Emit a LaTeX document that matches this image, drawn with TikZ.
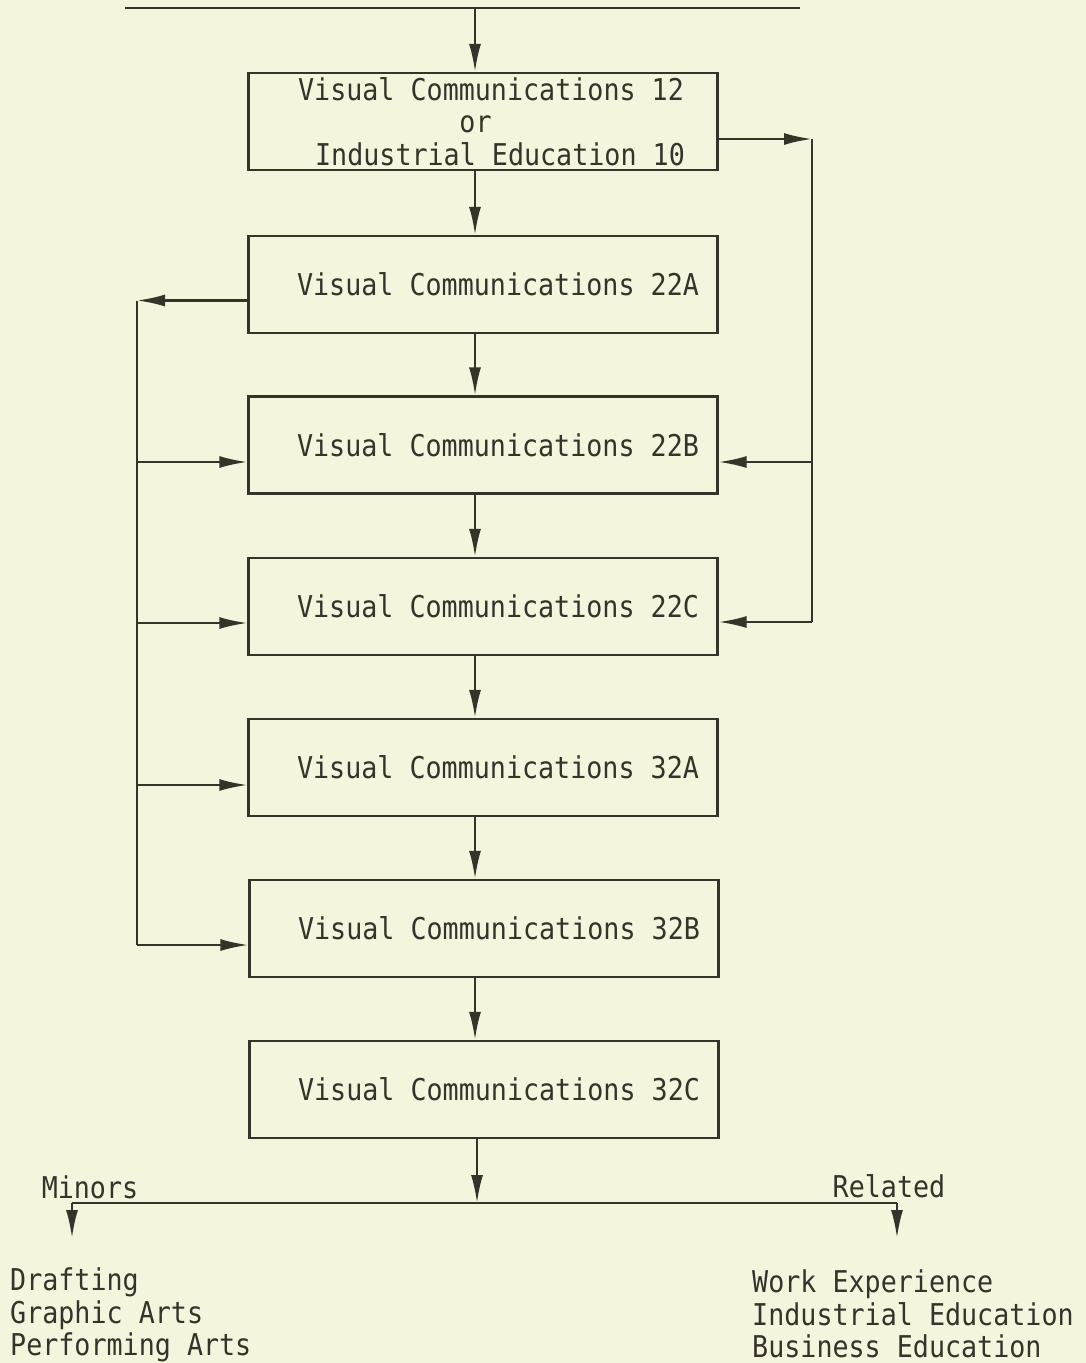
\documentclass[tikz,border=0pt]{standalone}
\usepackage{fontspec}
\newfontfamily\tw[FakeStretch=0.89]{DejaVu Sans Mono}
\usetikzlibrary{arrows.meta}
\definecolor{bg}{RGB}{245,245,222}
\definecolor{ink}{RGB}{55,50,42}
\begin{document}
\begin{tikzpicture}[x=1pt,y=-1pt,
  font=\tw\fontsize{30}{32.5}\selectfont,
  box/.style={draw=ink,line width=2.3pt,minimum width=469pt,minimum height=97pt,inner sep=0pt,text=ink,align=center},
  lbl/.style={text=ink,inner sep=0pt},
  wire/.style={draw=ink,line width=2.3pt},
  arr/.style={wire,-{Latex[length=28pt,width=12pt]}}]
\fill[bg] (0,0) rectangle (1086,1363);
\useasboundingbox (0,0) rectangle (1086,1363);
% boxes
\node[box] (b1) at (483,121.5) {\hspace*{16pt}Visual Communications 12\\ \hspace*{-15pt}or\\ \hspace*{34pt}Industrial Education 10};
\node[box] (b2) at (483,284.5) {\hspace*{30pt}Visual Communications 22A};
\node[box] (b3) at (483,445) {\hspace*{30pt}Visual Communications 22B};
\node[box] (b4) at (483,606.5) {\hspace*{30pt}Visual Communications 22C};
\node[box] (b5) at (483,767.5) {\hspace*{30pt}Visual Communications 32A};
\node[box] (b6) at (484,928.5) {\hspace*{30pt}Visual Communications 32B};
\node[box] (b7) at (484,1089.5) {\hspace*{30pt}Visual Communications 32C};
% top line
\coordinate (tl) at (125,8);
\coordinate (tr) at (800,8);
\coordinate (ax) at (475,8);
\draw[wire] (tl) -- (tr);
\draw[arr] (ax) -- (b1.north -| ax);
\draw[arr] (b1.south -| ax) -- (b2.north -| ax);
\draw[arr] (b2.south -| ax) -- (b3.north -| ax);
\draw[arr] (b3.south -| ax) -- (b4.north -| ax);
\draw[arr] (b4.south -| ax) -- (b5.north -| ax);
\draw[arr] (b5.south -| ax) -- (b6.north -| ax);
\draw[arr] (b6.south -| ax) -- (b7.north -| ax);
% left loop
\coordinate (L) at (137,0);
\coordinate (a2) at ([yshift=-16pt]b2.west);
\coordinate (a3) at ([yshift=-17pt]b3.west);
\coordinate (a4) at ([yshift=-16.5pt]b4.west);
\coordinate (a5) at ([yshift=-17.5pt]b5.west);
\coordinate (a6) at ([yshift=-16.5pt]b6.west);
\draw[arr] (a2) -- (a2 -| L);
\draw[wire] (a2 -| L) -- (a6 -| L);
\draw[arr] (a3 -| L) -- (a3);
\draw[arr] (a4 -| L) -- (a4);
\draw[arr] (a5 -| L) -- (a5);
\draw[arr] (a6 -| L) -- (a6);
% right loop
\coordinate (R) at (812,0);
\coordinate (r1) at ([yshift=-17.5pt]b1.east);
\coordinate (r3) at ([yshift=-17pt]b3.east);
\coordinate (r4) at ([yshift=-15.5pt]b4.east);
\draw[arr] (r1) -- (r1 -| R);
\draw[wire] (r1 -| R) -- (r4 -| R);
\draw[arr] (r3 -| R) -- (r3);
\draw[arr] (r4 -| R) -- (r4);
% bottom
\coordinate (bm) at (477,1203);
\coordinate (bl) at (72,1203);
\coordinate (br) at (897,1203);
\draw[arr] (b7.south -| bm) -- (bm);
\draw[wire] (bl) -- (br);
\draw[arr] (bl) -- ++(0,35) coordinate (blt);
\draw[arr] (br) -- ++(0,35) coordinate (brt);
\node[lbl] (minors) at (90,1187) {Minors};
\node[lbl] (related) at (889,1186) {Related};
\node[lbl,anchor=west,align=left] (minlist) at (10,1315) {Drafting\\Graphic Arts\\Performing Arts};
\node[lbl,anchor=west,align=left] (rellist) at (752,1314) {Work Experience\\Industrial Education\\Business Education};
\end{tikzpicture}
\end{document}
